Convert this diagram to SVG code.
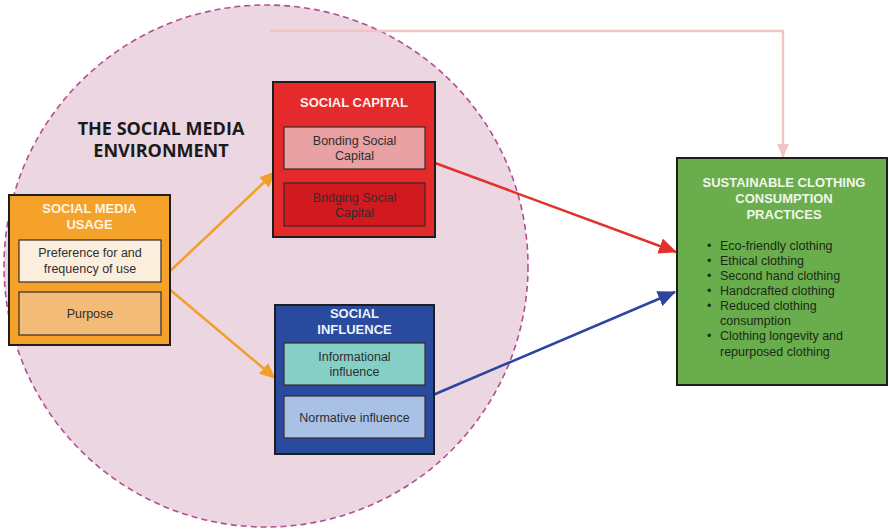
<svg xmlns="http://www.w3.org/2000/svg" width="889" height="530" viewBox="0 0 889 530">
  <defs>
    <style>
      .outer { stroke: #1e1e1e; stroke-width: 2; }
      .inner { stroke: #3a2a2a; stroke-width: 1.2; }
      .title { font-family: "Liberation Sans", Arial, sans-serif; font-weight: bold; font-size: 13px; text-anchor: middle; }
      .body { font-family: "Liberation Sans", Arial, sans-serif; font-size: 12.5px; text-anchor: middle; fill: #2e2e2e; }
      .bullet { font-family: "Liberation Sans", Arial, sans-serif; font-size: 12.5px; fill: #1c2a14; }
      .env { font-family: "Open Sans", "Liberation Sans", sans-serif; font-weight: bold; font-size: 18px; text-anchor: middle; fill: #1a1a1a; }
      .conn { fill: none; stroke-width: 2.5; }
    </style>
    <marker id="arrOrange" markerUnits="userSpaceOnUse" markerWidth="16" markerHeight="14" refX="15" refY="7" orient="auto">
      <path d="M0,0 L16,7 L0,14 Z" fill="#f0a02a"/>
    </marker>
    <marker id="arrRed" markerUnits="userSpaceOnUse" markerWidth="18" markerHeight="16" refX="17" refY="8" orient="auto">
      <path d="M0,0 L18,8 L0,16 Z" fill="#e2302a"/>
    </marker>
    <marker id="arrBlue" markerUnits="userSpaceOnUse" markerWidth="18" markerHeight="16" refX="17" refY="8" orient="auto">
      <path d="M0,0 L18,8 L0,16 Z" fill="#2b45a0"/>
    </marker>
    <marker id="arrPink" markerUnits="userSpaceOnUse" markerWidth="14" markerHeight="12" refX="13" refY="6" orient="auto">
      <path d="M0,0 L14,6 L0,12 Z" fill="#f2c4c4"/>
    </marker>
  </defs>

  <rect width="889" height="530" fill="#ffffff"/>

  <!-- social media environment -->
  <g id="environment">
    <ellipse cx="266" cy="266" rx="262" ry="261" fill="#ebd6e1" stroke="#b2508f" stroke-width="1.6" stroke-dasharray="6,4"/>
    <text class="env" x="161" y="135">THE SOCIAL MEDIA</text>
    <text class="env" x="161" y="157">ENVIRONMENT</text>
  </g>

  <!-- connectors -->
  <g id="connectors">
    <polyline class="conn" points="270,31 783,31 783,157" stroke="#f2c4c4" stroke-width="2" marker-end="url(#arrPink)"/>
    <line class="conn" x1="168" y1="273" x2="275" y2="172" stroke="#f0a02a" marker-end="url(#arrOrange)"/>
    <line class="conn" x1="168" y1="288" x2="275" y2="378" stroke="#f0a02a" marker-end="url(#arrOrange)"/>
    <line class="conn" x1="435" y1="163" x2="676" y2="252" stroke="#e2302a" marker-end="url(#arrRed)"/>
    <line class="conn" x1="433" y1="395" x2="675" y2="292" stroke="#2b45a0" marker-end="url(#arrBlue)"/>
  </g>

  <!-- social media usage -->
  <g id="usage">
    <rect class="outer" x="9" y="195" width="161" height="150" fill="#f4a22a"/>
    <text class="title" x="89.5" y="213" fill="#fff3e2">SOCIAL MEDIA</text>
    <text class="title" x="89.5" y="229" fill="#fff3e2">USAGE</text>
    <rect class="inner" x="19" y="240" width="142" height="42" fill="#fbeedd"/>
    <text class="body" x="90" y="257">Preference for and</text>
    <text class="body" x="90" y="273">frequency of use</text>
    <rect class="inner" x="19" y="292" width="142" height="43" fill="#f2bb78"/>
    <text class="body" x="90" y="318">Purpose</text>
  </g>

  <!-- social capital -->
  <g id="capital">
    <rect class="outer" x="273" y="82" width="162" height="155" fill="#e42a2a"/>
    <text class="title" x="354" y="107" fill="#fff0ea">SOCIAL CAPITAL</text>
    <rect class="inner" x="284" y="127" width="141" height="42" fill="#e9a1a4"/>
    <text class="body" x="354.5" y="145" fill="#5a2a2a">Bonding Social</text>
    <text class="body" x="354.5" y="160" fill="#5a2a2a">Capital</text>
    <rect class="inner" x="284" y="183" width="141" height="43" fill="#d01a20"/>
    <text class="body" x="354.5" y="202" fill="#9a1418">Bridging Social</text>
    <text class="body" x="354.5" y="217" fill="#9a1418">Capital</text>
  </g>

  <!-- social influence -->
  <g id="influence">
    <rect class="outer" x="275" y="305" width="159" height="149" fill="#2a4a9e"/>
    <text class="title" x="354.5" y="318" fill="#eef2fa">SOCIAL</text>
    <text class="title" x="354.5" y="334" fill="#eef2fa">INFLUENCE</text>
    <rect class="inner" x="284" y="343" width="141" height="42" fill="#86cfc6"/>
    <text class="body" x="354.5" y="361">Informational</text>
    <text class="body" x="354.5" y="376">influence</text>
    <rect class="inner" x="284" y="396" width="141" height="42" fill="#aac1e6"/>
    <text class="body" x="354.5" y="422">Normative influence</text>
  </g>

  <!-- sustainable clothing consumption practices -->
  <g id="practices">
    <rect class="outer" x="677" y="158" width="210" height="227" fill="#6aad4d"/>
    <text class="title" x="784" y="187" fill="#f0f7ea">SUSTAINABLE CLOTHING</text>
    <text class="title" x="784" y="203" fill="#f0f7ea">CONSUMPTION</text>
    <text class="title" x="784" y="219" fill="#f0f7ea">PRACTICES</text>
    <g class="bullet">
      <text x="707" y="250">•</text><text x="720" y="250">Eco-friendly clothing</text>
      <text x="707" y="265">•</text><text x="720" y="265">Ethical clothing</text>
      <text x="707" y="280">•</text><text x="720" y="280">Second hand clothing</text>
      <text x="707" y="295">•</text><text x="720" y="295">Handcrafted clothing</text>
      <text x="707" y="310">•</text><text x="720" y="310">Reduced clothing</text>
      <text x="720" y="325">consumption</text>
      <text x="707" y="340">•</text><text x="720" y="340">Clothing longevity and</text>
      <text x="720" y="356">repurposed clothing</text>
    </g>
  </g>
</svg>
